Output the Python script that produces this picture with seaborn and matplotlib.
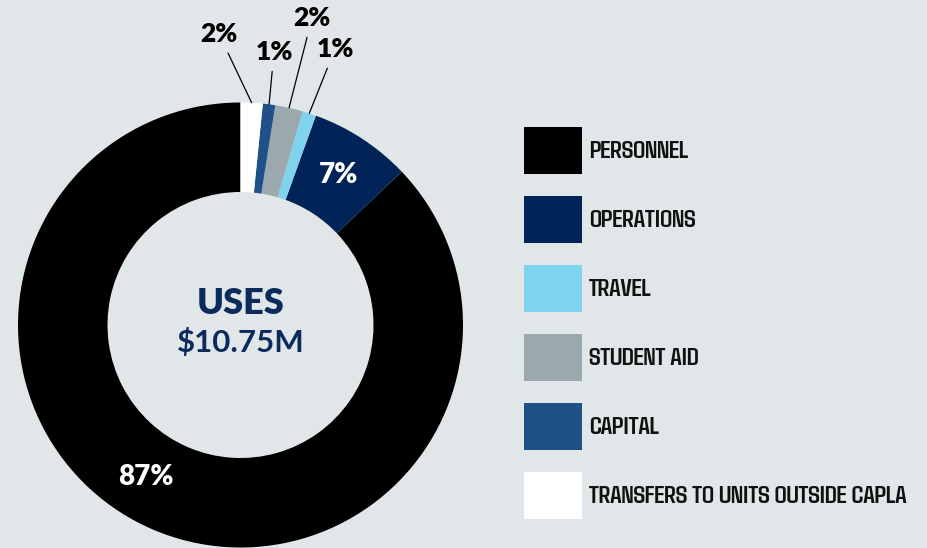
import numpy as np
import matplotlib.pyplot as plt
import seaborn as sns
from matplotlib import font_manager
from matplotlib.textpath import TextPath

# data
categories = ['PERSONNEL', 'OPERATIONS', 'TRAVEL', 'STUDENT AID', 'CAPITAL',
              'TRANSFERS TO UNITS OUTSIDE CAPLA']
shares = [87.1, 7.4, 1.0, 2.0, 0.9, 1.6]
colors = ['#000000', '#002457', '#7fd3ec', '#9ba8ae', '#1f5088', '#ffffff']
center_title = 'USES'
center_total = '$10.75M'

sns.set_theme(style='white')
plt.rcParams['font.family'] = ['Lato', 'DejaVu Sans']

# legend uses a narrow bold face: pick the installed bold font whose width
# for the longest label comes closest to the reference (318 px at 25 px em)
longest = max(categories, key=len)
target = 318 / 25
best, best_err, best_ratio = None, None, None
for f in font_manager.fontManager.ttflist:
    w = f.weight if isinstance(f.weight, int) else font_manager.weight_dict.get(f.weight, 400)
    if w < 600 or 'CJK' in f.name or 'Mono' in f.name:
        continue
    try:
        ratio = TextPath((0, 0), longest, prop=font_manager.FontProperties(fname=f.fname, size=1)).get_extents().width
    except Exception:
        continue
    err = abs(ratio - target)
    if best_err is None or err < best_err:
        best, best_err, best_ratio = f, err, ratio
leg_px = min(25, 318 / best_ratio)
leg_prop = font_manager.FontProperties(fname=best.fname, size=leg_px * 72 / 100)

W, H = 928, 548
BG = '#e1e7e9'
NAVY = '#0b2b5c'

fig = plt.figure(figsize=(W / 100, H / 100), dpi=100, facecolor=BG)
ax = fig.add_axes([0, 0, 1, 1])
ax.set_facecolor(BG)

cx, cy, R, r_in = 240.5, H - 325, 222.5, 133
wedges, _ = ax.pie(shares, colors=colors, startangle=90, counterclock=True,
                   center=(cx, cy), radius=R,
                   wedgeprops=dict(width=R - r_in, linewidth=0))
ax.set_xlim(0, W)
ax.set_ylim(0, H)
ax.set_aspect('equal')
ax.axis('off')


def polar(theta, rad):
    t = np.deg2rad(theta)
    return cx + rad * np.cos(t), cy + rad * np.sin(t)


labels = [f'{round(v)}%' for v in shares]
mids = [(w.theta1 + w.theta2) / 2 for w in wedges]

# big slices: label inside the ring
inner = {0: -8.5, 1: 0.0}
for i, shift in inner.items():
    x, y = polar(mids[i] + shift, 0.805 * R)
    ax.text(x, y, labels[i], color='white', fontsize=20, fontweight='heavy',
            ha='center', va='center')

# small slices: label outside with leader line
outer_text = {2: (335, H - 49), 3: (312, H - 18), 4: (274, H - 52), 5: (219, H - 34)}
for i, (tx, ty) in outer_text.items():
    ax.annotate(labels[i], xy=polar(mids[i], R), xytext=(tx, ty),
                fontsize=19, fontweight='heavy', color='black',
                ha='center', va='center', annotation_clip=False,
                arrowprops=dict(arrowstyle='-', color='black', lw=0.9,
                                shrinkA=3, shrinkB=0))

ax.text(cx, H - 303, center_title, color=NAVY, fontsize=26, fontweight='heavy',
        ha='center', va='center')
ax.text(cx, H - 343, center_total, color=NAVY, fontsize=22.5, fontweight='bold',
        ha='center', va='center')

fs = leg_prop.get_size_in_points() * 100 / 72
leg = ax.legend(wedges, categories, loc='upper left',
                bbox_to_anchor=(524, H - 127), bbox_transform=ax.transData,
                frameon=False, prop=leg_prop,
                handlelength=58 / fs, handleheight=(47 / fs - 0.245) / 0.65,
                labelspacing=22 / fs, handletextpad=7 / fs,
                borderpad=0, borderaxespad=0)
for t in leg.get_texts():
    t.set_color('#111111')

fig.savefig('out.png', dpi=100, facecolor=BG)
